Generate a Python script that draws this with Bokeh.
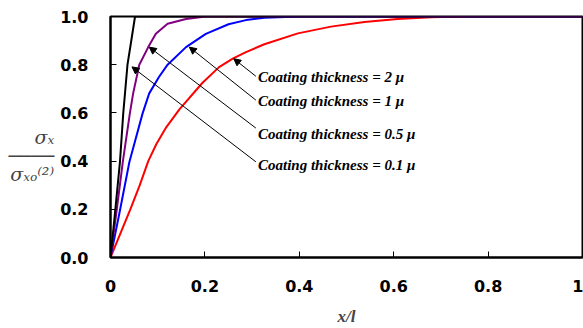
from bokeh.plotting import figure
from bokeh.models import Range1d, FixedTicker, NumeralTickFormatter, Label, Arrow, NormalHead
from bokeh.embed import file_html
from bokeh.resources import INLINE

# Data
red_x = [0, 0.042, 0.062, 0.08, 0.097, 0.118, 0.146, 0.195, 0.23, 0.259, 0.287, 0.326, 0.397, 0.467, 0.538, 0.608, 0.679, 0.75, 1.0]
red_y = [0, 0.2, 0.3, 0.4, 0.47, 0.54, 0.615, 0.725, 0.79, 0.825, 0.852, 0.885, 0.93, 0.958, 0.977, 0.99, 0.997, 1.0, 1.0]
blue_x = [0, 0.02, 0.04, 0.068, 0.082, 0.103, 0.121, 0.16, 0.202, 0.25, 0.287, 0.326, 0.40, 1.0]
blue_y = [0, 0.195, 0.396, 0.598, 0.681, 0.75, 0.8, 0.873, 0.928, 0.968, 0.985, 0.995, 1.0, 1.0]
purple_x = [0, 0.013, 0.026, 0.041, 0.048, 0.061, 0.08, 0.096, 0.121, 0.16, 0.202, 1.0]
purple_y = [0, 0.195, 0.396, 0.598, 0.681, 0.8, 0.873, 0.928, 0.97, 0.99, 1.0, 1.0]
black_x = [0, 0.010, 0.020, 0.027, 0.036, 0.043, 0.052, 1.0]
black_y = [0, 0.195, 0.396, 0.598, 0.8, 0.887, 1.0, 1.0]

x_ticks = [0, 0.2, 0.4, 0.6, 0.8, 1.0]
y_ticks = [0, 0.2, 0.4, 0.6, 0.8, 1.0]

labels = ["Coating thickness = 2 \u03bc", "Coating thickness = 1 \u03bc",
          "Coating thickness = 0.5 \u03bc", "Coating thickness = 0.1 \u03bc"]
label_y = [0.749, 0.649, 0.513, 0.385]
label_x = 0.3125
# arrow tails (at text) and heads (on curves)
tail_x = [0.308, 0.308, 0.308, 0.308]
tail_y = [0.752, 0.653, 0.537, 0.397]
head_x = [0.261, 0.167, 0.082, 0.0455]
head_y = [0.825, 0.873, 0.873, 0.791]

y_label = "\n\n\u03c3\u2093\n\u2500\u2500\u2500\u2500\n\u03c3\u2093\u2092\u207d\u00b2\u207e"

p = figure(width=583, height=328, output_backend="svg", toolbar_location=None,
           x_range=Range1d(0, 1), y_range=Range1d(0, 1),
           min_border_left=110, min_border_right=1, min_border_top=16, min_border_bottom=70)
p.grid.visible = False
p.outline_line_color = "black"
p.outline_line_width = 2
p.outline_line_alpha = 1

for ax in (p.xaxis[0], p.yaxis[0]):
    ax.axis_line_width = 2
    ax.major_tick_in = 6
    ax.major_tick_out = 0
    ax.minor_tick_line_color = None
    ax.major_tick_line_width = 1
    ax.major_label_text_font = "DejaVu Sans"
    ax.major_label_text_font_style = "bold"
    ax.major_label_text_font_size = "16px"
    ax.major_label_text_color = "black"
    ax.major_label_standoff = 22

p.xaxis.ticker = FixedTicker(ticks=x_ticks)
p.yaxis.ticker = FixedTicker(ticks=y_ticks)
p.yaxis.formatter = NumeralTickFormatter(format="0.0")

p.xaxis.axis_label = "x/l"
p.xaxis.axis_label_text_font = "Liberation Serif"
p.xaxis.axis_label_text_font_style = "bold italic"
p.xaxis.axis_label_text_font_size = "17px"
p.xaxis.axis_label_standoff = 12

p.yaxis.axis_label = y_label
p.yaxis.axis_label_orientation = "horizontal"
p.yaxis.axis_label_text_font = "DejaVu Serif"
p.yaxis.axis_label_text_font_style = "italic"
p.yaxis.axis_label_text_font_size = "19px"
p.yaxis.axis_label_standoff = 3
p.yaxis.axis_label_text_line_height = 0.85

p.line(red_x, red_y, line_color="#ff0000", line_width=2)
p.line(blue_x, blue_y, line_color="#0000ff", line_width=2)
p.line(purple_x, purple_y, line_color="#800080", line_width=2)
p.line(black_x, black_y, line_color="black", line_width=2)

for i in range(4):
    p.add_layout(Arrow(end=NormalHead(size=7, fill_color="black", line_color="black"),
                       x_start=tail_x[i], y_start=tail_y[i], x_end=head_x[i], y_end=head_y[i],
                       line_color="black", line_width=1))
    p.add_layout(Label(x=label_x, y=label_y[i], text=labels[i], text_font="Liberation Serif",
                       text_font_style="bold italic", text_font_size="15px",
                       text_baseline="middle", text_align="left", text_color="black"))

open("out.html", "w").write(file_html(p, INLINE))
